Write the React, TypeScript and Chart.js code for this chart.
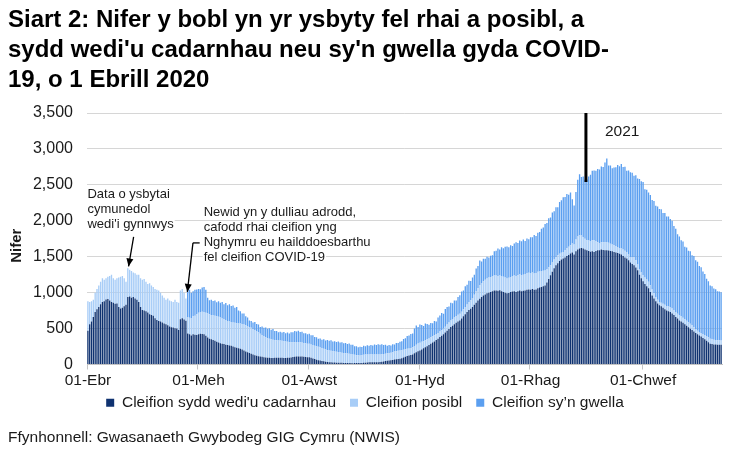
import { useEffect, useRef } from 'react';
import { Chart, registerables } from 'chart.js';

Chart.register(...registerables);

// Daily values from 1 April 2020
const confirmed = [
  470, 560, 600, 660, 730, 770, 800, 840, 870, 880,
  905, 910, 890, 870, 860, 845, 850, 800, 780, 790,
  810, 830, 940, 945, 930, 940, 920, 900, 870, 800,
  760, 750, 740, 725, 700, 690, 680, 645, 620, 605,
  600, 585, 570, 560, 545, 530, 520, 515, 505, 500,
  480, 630, 645, 625, 610, 430, 420, 405, 420, 415,
  410, 420, 428, 425, 420, 400, 375, 358, 350, 340,
  330, 315, 305, 297, 290, 285, 275, 270, 265, 260,
  250, 240, 232, 225, 219, 210, 195, 180, 170, 160,
  150, 140, 130, 122, 115, 112, 108, 100, 96, 93,
  93, 90, 92, 95, 94, 93, 93, 95, 92, 90,
  93, 95, 98, 105, 108, 110, 112, 112, 110, 108,
  105, 102, 100, 95, 85, 75, 65, 60, 56, 50,
  45, 40, 36, 33, 30, 28, 27, 26, 25, 25,
  24, 22, 21, 20, 20, 20, 19, 20, 21, 20,
  20, 22, 24, 26, 28, 30, 31, 32, 33, 33,
  33, 35, 38, 42, 48, 52, 56, 60, 64, 68,
  72, 76, 79, 88, 98, 108, 118, 126, 132, 140,
  155, 172, 185, 195, 210, 225, 240, 255, 270, 288,
  305, 320, 340, 360, 381, 400, 420, 445, 470, 495,
  521, 540, 560, 580, 598, 614, 640, 670, 700, 730,
  760, 776, 800, 830, 860, 890, 916, 940, 960, 975,
  990, 1000, 1009, 1020, 1030, 1030, 1025, 1032, 1020, 1010,
  1000, 990, 995, 1009, 1015, 1020, 1010, 1020, 1030, 1020,
  1025, 1030, 1040, 1045, 1040, 1050, 1040, 1045, 1060, 1070,
  1080, 1090, 1100, 1140, 1190, 1241, 1290, 1340, 1381, 1410,
  1440, 1460, 1474, 1490, 1510, 1525, 1544, 1560, 1530, 1575,
  1600, 1613, 1620, 1615, 1600, 1590, 1580, 1570, 1575, 1567,
  1580, 1590, 1590, 1600, 1595, 1590, 1590, 1585, 1580, 1575,
  1567, 1560, 1550, 1540, 1530, 1510, 1490, 1474, 1450, 1420,
  1400, 1381, 1350, 1310, 1250, 1200, 1160, 1120, 1090, 1060,
  1010, 960, 920, 880, 850, 823, 810, 790, 770, 750,
  740, 730, 710, 690, 660, 640, 614, 600, 580, 560,
  540, 520, 498, 480, 460, 440, 420, 404, 390, 370,
  350, 330, 310, 288, 285, 280, 278, 276, 275, 274,
];

const possible = [
  410, 310, 280, 240, 270, 280, 300, 310, 330, 300,
  295, 310, 340, 380, 340, 335, 350, 410, 440, 440,
  390, 320, 400, 375, 370, 340, 350, 350, 380, 400,
  420, 440, 410, 395, 430, 410, 400, 405, 420, 425,
  400, 375, 360, 340, 375, 360, 360, 355, 395, 370,
  380, 400, 405, 375, 310, 230, 230, 235, 250, 265,
  290, 300, 302, 310, 310, 320, 335, 342, 340, 350,
  350, 355, 360, 363, 350, 345, 345, 335, 335, 330,
  335, 340, 343, 347, 351, 355, 360, 365, 365, 361,
  360, 355, 350, 343, 335, 316, 302, 295, 284, 272,
  265, 260, 253, 245, 244, 242, 242, 235, 233, 230,
  222, 216, 212, 205, 203, 202, 200, 199, 195, 192,
  190, 188, 188, 185, 185, 187, 190, 188, 186, 180,
  175, 170, 164, 162, 160, 157, 153, 152, 150, 147,
  141, 138, 134, 132, 129, 125, 121, 115, 109, 108,
  106, 108, 111, 112, 112, 110, 111, 108, 107, 107,
  107, 105, 104, 103, 102, 103, 102, 105, 108, 112,
  113, 114, 116, 112, 108, 104, 100, 96, 98, 100,
  102, 104, 106, 108, 105, 100, 98, 95, 92, 90,
  88, 86, 84, 80, 78, 76, 78, 82, 86, 90,
  93, 92, 94, 95, 93, 93, 95, 98, 100, 105,
  110, 117, 125, 140, 155, 170, 186, 195, 200, 205,
  208, 209, 210, 212, 210, 208, 205, 208, 210, 212,
  210, 208, 212, 209, 215, 218, 220, 222, 225, 220,
  225, 228, 230, 233, 232, 230, 228, 230, 230, 225,
  220, 215, 209, 190, 165, 140, 130, 122, 116, 110,
  100, 95, 93, 100, 108, 112, 116, 125, 140, 165,
  180, 186, 175, 160, 150, 139, 145, 150, 155, 162,
  140, 110, 93, 100, 108, 112, 116, 110, 100, 95,
  93, 90, 85, 80, 85, 90, 93, 93, 80, 70,
  90, 116, 100, 90, 80, 80, 85, 90, 92, 93,
  93, 85, 75, 60, 50, 46, 50, 55, 60, 65,
  68, 70, 70, 69, 69, 68, 69, 70, 70, 69,
  69, 69, 69, 65, 60, 55, 50, 47, 50, 55,
  60, 65, 68, 70, 68, 66, 64, 62, 61, 61,
];

const recovering = [
  0, 0, 0, 0, 0, 0, 0, 0, 0, 0,
  0, 0, 0, 0, 0, 0, 0, 0, 0, 0,
  0, 0, 0, 0, 0, 0, 0, 0, 0, 0,
  0, 0, 0, 0, 0, 0, 0, 0, 0, 0,
  0, 0, 0, 0, 0, 0, 0, 0, 0, 0,
  0, 0, 0, 0, 0, 390, 390, 360, 350, 360,
  345, 330, 316, 335, 349, 320, 220, 193, 210, 195,
  210, 195, 215, 200, 230, 210, 235, 220, 240, 225,
  235, 210, 225, 180, 170, 145, 155, 125, 120, 90,
  95, 88, 110, 98, 108, 95, 120, 118, 135, 132,
  145, 132, 148, 125, 128, 114, 122, 115, 126, 114,
  130, 120, 140, 140, 155, 147, 156, 143, 150, 135,
  140, 130, 140, 128, 136, 122, 125, 112, 120, 115,
  130, 124, 142, 135, 146, 134, 145, 136, 144, 134,
  145, 135, 145, 132, 143, 130, 134, 120, 124, 112,
  120, 114, 125, 117, 127, 120, 131, 125, 137, 130,
  142, 134, 140, 125, 125, 105, 112, 100, 110, 100,
  115, 110, 120, 125, 150, 155, 180, 180, 195, 192,
  243, 268, 230, 255, 235, 210, 232, 212, 190, 199,
  182, 200, 176, 215, 224, 240, 210, 245, 244, 222,
  245, 220, 238, 215, 250, 255, 280, 262, 290, 275,
  295, 270, 285, 280, 320, 310, 345, 300, 310, 290,
  300, 280, 295, 290, 335, 345, 385, 360, 400, 395,
  430, 445, 425, 440, 420, 445, 470, 450, 470, 475,
  490, 460, 485, 465, 500, 490, 535, 515, 545, 550,
  590, 600, 645, 640, 680, 665, 695, 670, 690, 670,
  720, 730, 760, 740, 755, 725, 735, 615, 543, 660,
  790, 850, 815, 840, 820, 845, 890, 920, 965, 970,
  975, 1020, 1030, 1055, 1045, 1110, 1162, 1075, 1090, 1060,
  1080, 1095, 1140, 1140, 1175, 1150, 1170, 1130, 1170, 1185,
  1180, 1130, 1185, 1190, 1250, 1270, 1295, 1230, 1250, 1240,
  1255, 1245, 1280, 1270, 1300, 1295, 1300, 1265, 1280, 1245,
  1250, 1225, 1220, 1170, 1160, 1105, 1100, 1060, 1060, 1010,
  1020, 995, 1010, 975, 990, 955, 960, 920, 915, 870,
  850, 800, 780, 740, 735, 710, 705, 680, 680, 670,
];

const monthAbbr = ['Ion', 'Chwef', 'Maw', 'Ebr', 'Mai', 'Meh', 'Gorff', 'Awst', 'Medi', 'Hyd', 'Tach', 'Rhag'];
const shownTicks = ['01-Ebr', '01-Meh', '01-Awst', '01-Hyd', '01-Rhag', '01-Chwef'];

const dayLabels = confirmed.map((_, i) => {
  const d = new Date(Date.UTC(2020, 3, 1 + i));
  return `${String(d.getUTCDate()).padStart(2, '0')}-${monthAbbr[d.getUTCMonth()]}`;
});

const titleLines = [
  'Siart 2: Nifer y bobl yn yr ysbyty fel rhai a posibl, a',
  "sydd wedi'u cadarnhau neu sy'n gwella gyda COVID-",
  '19, o 1 Ebrill 2020',
];
const seriesNames = ["Cleifion sydd wedi'u cadarnhau", 'Cleifion posibl', 'Cleifion sy’n gwella'];
const sourceText = 'Ffynhonnell: Gwasanaeth Gwybodeg GIG Cymru (NWIS)';
const yTitle = 'Nifer';
const noteCommunity = ['Data o ysbytai', 'cymunedol', "wedi'i gynnwys"];
const noteReclass = ['Newid yn y dulliau adrodd,', 'cafodd rhai cleifion yng', 'Nghymru eu hailddoesbarthu', 'fel cleifion COVID-19'];
const yearText = '2021';
const yearStartIndex = 275; // 1 Ionawr 2021

const FONT = '"Liberation Sans", Arial, Helvetica, sans-serif';

const palette = {
  confirmed: '#0f3270',
  possible: '#a8cdf7',
  recovering: '#5b9ff0',
  grid: 'rgba(180,180,180,0.55)',
  axis: '#c4c4c4',
  text: '#1a1a1a',
};

function drawArrow(ctx: CanvasRenderingContext2D, x0: number, y0: number, x1: number, y1: number) {
  ctx.beginPath();
  ctx.moveTo(x0, y0);
  ctx.lineTo(x1, y1);
  ctx.stroke();
  const a = Math.atan2(y1 - y0, x1 - x0);
  const len = 8;
  const half = 3.5;
  ctx.beginPath();
  ctx.moveTo(x1, y1);
  ctx.lineTo(x1 - len * Math.cos(a) + half * Math.sin(a), y1 - len * Math.sin(a) - half * Math.cos(a));
  ctx.lineTo(x1 - len * Math.cos(a) - half * Math.sin(a), y1 - len * Math.sin(a) + half * Math.cos(a));
  ctx.closePath();
  ctx.fill();
}

function drawNote(ctx: CanvasRenderingContext2D, lines: string[], x: number, yFirst: number) {
  ctx.font = `13px ${FONT}`;
  ctx.textBaseline = 'middle';
  ctx.textAlign = 'left';
  lines.forEach((text, i) => {
    const yy = yFirst + i * 15;
    const w = ctx.measureText(text).width;
    ctx.fillStyle = '#ffffff';
    ctx.fillRect(x - 1, yy - 6, w + 2, 12);
    ctx.fillStyle = palette.text;
    ctx.fillText(text, x, yy);
  });
}

// x tick labels sit below a deliberately short axis box; give them room so they are not clipped
const axisRoomPlugin = {
  id: 'axisRoom',
  afterLayout(chart: Chart) {
    const xs = chart.scales.x;
    xs.bottom = xs.top + 30;
  },
};

const notesPlugin = {
  id: 'notes',
  afterDraw(chart: Chart) {
    const { ctx, chartArea } = chart;
    const xs = chart.scales.x;
    const ys = chart.scales.y;
    const px = (v: number) => xs.getPixelForValue(v);
    const py = (v: number) => ys.getPixelForValue(v);
    ctx.save();

    // y axis title
    ctx.save();
    ctx.translate(17, (chartArea.top + chartArea.bottom) / 2 + 7);
    ctx.rotate(-Math.PI / 2);
    ctx.font = `bold 15px ${FONT}`;
    ctx.fillStyle = palette.text;
    ctx.textAlign = 'center';
    ctx.textBaseline = 'middle';
    ctx.fillText(yTitle, 0, 0);
    ctx.restore();

    drawNote(ctx, noteCommunity, px(0) - 0.5, py(2370));
    drawNote(ctx, noteReclass, px(63.8), py(2110));

    ctx.strokeStyle = '#000';
    ctx.fillStyle = '#000';
    ctx.lineWidth = 1.3;
    drawArrow(ctx, px(25.2), py(1775), px(22.4), py(1365));
    ctx.beginPath();
    ctx.moveTo(px(61.6), py(1692));
    ctx.lineTo(px(57.9), py(1692));
    ctx.stroke();
    drawArrow(ctx, px(57.9), py(1692), px(54.8), py(1010));

    // start of 2021
    const xYear = px(yearStartIndex - 0.5);
    ctx.lineWidth = 3;
    ctx.beginPath();
    ctx.moveTo(xYear, chartArea.top);
    ctx.lineTo(xYear, py(2540));
    ctx.stroke();
    ctx.font = `15.5px ${FONT}`;
    ctx.fillStyle = palette.text;
    ctx.textAlign = 'center';
    ctx.textBaseline = 'middle';
    ctx.fillText(yearText, px(yearStartIndex + 19.5), py(3240));

    ctx.restore();
  },
};

export default function App(): JSX.Element {
  const canvasRef = useRef<HTMLCanvasElement | null>(null);

  useEffect(() => {
    document.body.style.margin = '0';
    const context = canvasRef.current?.getContext('2d');
    if (!context) return;

    const chart = new Chart(context, {
      type: 'bar',
      data: {
        labels: dayLabels,
        datasets: [
          { label: seriesNames[0], data: confirmed, backgroundColor: palette.confirmed },
          { label: seriesNames[1], data: possible, backgroundColor: palette.possible },
          { label: seriesNames[2], data: recovering, backgroundColor: palette.recovering },
        ],
      },
      options: {
        responsive: true,
        maintainAspectRatio: false,
        animation: false,
        datasets: {
          bar: { barPercentage: 0.74, categoryPercentage: 1, borderWidth: 0 },
        },
        layout: { padding: { left: 8, right: 9, top: 0, bottom: 0 } },
        plugins: {
          tooltip: { enabled: false },
          title: {
            display: true,
            text: titleLines,
            align: 'start',
            color: '#000',
            font: { family: FONT, size: 24, weight: 'bold', lineHeight: 1.25 },
            padding: { top: 5, bottom: 18 },
          },
          legend: {
            position: 'bottom',
            labels: {
              boxWidth: 8,
              boxHeight: 8,
              padding: 14,
              color: palette.text,
              font: { family: FONT, size: 15.5 },
            },
          },
          subtitle: {
            display: true,
            position: 'bottom',
            align: 'start',
            text: sourceText,
            color: palette.text,
            font: { family: FONT, size: 15.5, lineHeight: 1 },
            padding: { top: 9, bottom: 12 },
          },
        },
        scales: {
          x: {
            stacked: true,
            z: 1,
            afterFit: (scale) => {
              scale.height = 16.5;
            },
            grid: {
              drawOnChartArea: false,
              tickLength: 5,
              color: (c) => (shownTicks.includes(dayLabels[c.index]) ? palette.axis : 'rgba(0,0,0,0)'),
            },
            border: { display: true, color: palette.axis },
            ticks: {
              autoSkip: false,
              maxRotation: 0,
              minRotation: 0,
              padding: 2,
              color: palette.text,
              font: { family: FONT, size: 15.5 },
              callback: (_v, index) => (shownTicks.includes(dayLabels[index]) ? dayLabels[index] : ''),
            },
          },
          y: {
            stacked: true,
            z: 1,
            min: 0,
            max: 3500,
            afterFit: (scale) => {
              scale.width = 79;
            },
            grid: { color: palette.grid, drawTicks: false },
            border: { display: false },
            ticks: {
              stepSize: 500,
              padding: 14,
              color: palette.text,
              font: { family: FONT, size: 16 },
              callback: (v) => Number(v).toLocaleString('en-US'),
            },
          },
        },
      },
      plugins: [axisRoomPlugin, notesPlugin],
    });

    return () => {
      chart.destroy();
    };
  }, []);

  return (
    <div style={{ position: 'relative', width: 731, height: 457 }}>
      <canvas ref={canvasRef} />
    </div>
  );
}
